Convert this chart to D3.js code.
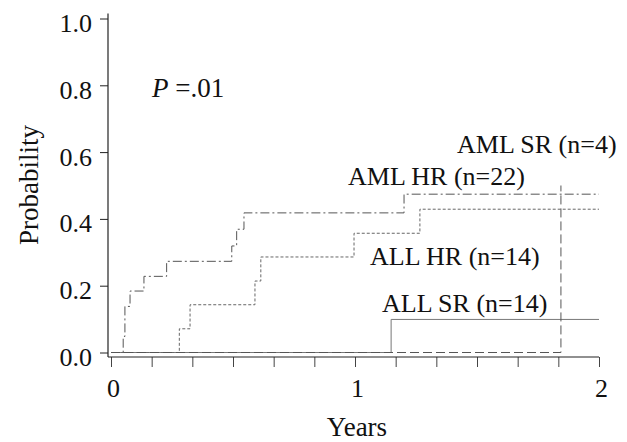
<!DOCTYPE html>
<html><head><meta charset="utf-8">
<script src="https://cdn.jsdelivr.net/npm/d3@7"></script>
<style>
html,body{margin:0;padding:0;background:#fff;}
svg text{font-family:"Liberation Serif","Times New Roman",serif !important;fill:#111;}
</style></head>
<body>
<svg id="chart" width="627" height="442" font-family="Liberation Serif"></svg>
<script>
// ---- data ----
const yTicks = [0, 0.2, 0.4, 0.6, 0.8, 1.0];
const yTickLabels = ["0.0", "0.2", "0.4", "0.6", "0.8", "1.0"];
const xTicks = [0, 1/6, 2/6, 3/6, 4/6, 5/6, 1, 7/6, 8/6, 9/6, 10/6, 11/6, 2];
const xTickLabels = {0: "0", 1: "1", 2: "2"};

const amlHRTimes = [0, 0.050, 0.057, 0.078, 0.135, 0.228, 0.495, 0.515, 0.545, 1.201, 2.0];
const amlHRProb  = [0, 0.048, 0.138, 0.184, 0.228, 0.273, 0.319, 0.369, 0.418, 0.474, 0.474];
const allHRTimes = [0, 0.280, 0.324, 0.590, 0.614, 0.996, 1.266, 2.0];
const allHRProb  = [0, 0.071, 0.143, 0.214, 0.286, 0.357, 0.429, 0.429];
const allSRTimes = [0, 1.148, 2.0];
const allSRProb  = [0, 0.099, 0.099];
const amlSRTimes = [0, 1.844, 1.844];
const amlSRProb  = [0, 0, 0.5];

const seriesLabels = ["AML SR (n=4)", "AML HR (n=22)", "ALL HR (n=14)", "ALL SR (n=14)"];
const pLabel = ["P", " =.01"];

// ---- drawing ----
const FONT = '"Liberation Serif","Times New Roman",serif';
const svg = d3.select("#chart");
const x = d3.scaleLinear().domain([0, 2]).range([111, 599]);
const y = d3.scaleLinear().domain([0, 1]).range([352.5, 18.5]);
const axisX0 = 108, axisY0 = 357;

// y axis
const yAxis = d3.axisLeft(y).tickValues(yTicks)
  .tickFormat((d, i) => yTickLabels[i]).tickSize(8).tickPadding(8).tickSizeOuter(0);
const gy = svg.append("g").attr("transform", `translate(${axisX0},0)`).call(yAxis)
  .attr("font-family", FONT).attr("font-size", 26);
gy.select(".domain").remove();
gy.selectAll(".tick line").attr("stroke", "#222");
gy.selectAll(".tick text").attr("dy", "0.5em").attr("font-family", FONT)
  .style("font-size", "26px").attr("fill", "#111");
svg.append("line").attr("x1", axisX0).attr("x2", axisX0)
  .attr("y1", y(1.015)).attr("y2", axisY0).attr("stroke", "#222").attr("stroke-width", 1.2);

// x axis
const xAxis = d3.axisBottom(x).tickValues(xTicks)
  .tickFormat(d => (Math.abs(d - Math.round(d)) < 1e-9 ? xTickLabels[Math.round(d)] : ""))
  .tickSize(10).tickSizeOuter(0);
const gx = svg.append("g").attr("transform", `translate(0,${axisY0})`).call(xAxis)
  .attr("font-family", FONT).attr("font-size", 26);
gx.select(".domain").remove();
gx.selectAll(".tick line").attr("stroke", "#444");
gx.selectAll(".tick text").attr("dy", null).attr("y", 40).attr("dx", 2).attr("font-family", FONT)
  .style("font-size", "26px").attr("fill", "#111");
svg.append("line").attr("x1", axisX0).attr("x2", x(2))
  .attr("y1", axisY0).attr("y2", axisY0).attr("stroke", "#222").attr("stroke-width", 1.2);

// axis titles
svg.append("text").attr("x", 357).attr("y", 436).attr("text-anchor", "middle")
  .attr("font-family", FONT).style("font-size", "27px").text("Years");
svg.append("text").attr("transform", "translate(38,185) rotate(-90)").attr("text-anchor", "middle")
  .attr("font-family", FONT).style("font-size", "27px").text("Probability");

// curves
const line = d3.line().x(d => x(d[0])).y(d => y(d[1])).curve(d3.curveStepAfter);
function curve(times, probs, dash, color) {
  svg.append("path").datum(times.map((t, i) => [t, probs[i]]))
    .attr("d", line).attr("fill", "none").attr("stroke", color)
    .attr("stroke-width", 1).attr("stroke-dasharray", dash);
}
curve(allSRTimes, allSRProb, null, "#777");
curve(allHRTimes, allHRProb, "3,2", "#666");
curve(amlSRTimes, amlSRProb, "9,4", "#555");
curve(amlHRTimes, amlHRProb, "9,3,2,3", "#555");

// labels
const lab = [[457, 153], [348, 185], [370, 265], [382, 312]];
seriesLabels.forEach((s, i) => {
  svg.append("text").attr("x", lab[i][0]).attr("y", lab[i][1])
    .attr("font-family", FONT).style("font-size", "26px").text(s);
});

const pt = svg.append("text").attr("x", 152).attr("y", 97)
  .attr("font-family", FONT).style("font-size", "27px");
pt.append("tspan").style("font-style", "italic").text(pLabel[0]);
pt.append("tspan").text(pLabel[1]);
</script>
</body></html>
